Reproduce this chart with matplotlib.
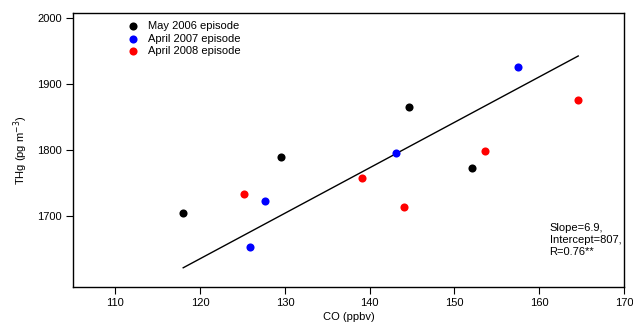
import matplotlib
matplotlib.use("Agg")
import matplotlib.pyplot as plt
import numpy as np

plt.rcParams['font.family'] = ['Liberation Sans', 'DejaVu Sans']

series_names = ["May 2006 episode", "April 2007 episode", "April 2008 episode"]
series_colors = ["#000000", "#0000ff", "#ff0000"]

co_2006 = [118.0, 129.5, 144.6, 152.1]
thg_2006 = [1704, 1789, 1866, 1773]
co_2007 = [125.9, 127.7, 143.1, 157.5]
thg_2007 = [1652, 1722, 1795, 1926]
co_2008 = [125.2, 139.1, 144.0, 153.6, 164.6]
thg_2008 = [1733, 1758, 1713, 1799, 1876]

slope = 6.9
intercept = 807
fit_text = "Slope=6.9,\nIntercept=807,\nR=0.76**"

xticks = [110, 120, 130, 140, 150, 160, 170]
yticks = [1700, 1800, 1900, 2000]

fig = plt.figure(figsize=(6.33, 3.22), dpi=100)
ax = fig.add_axes([73/633, 1 - 287/322, (624-73)/633, (287-13)/322])

xs = [co_2006, co_2007, co_2008]
ys = [thg_2006, thg_2007, thg_2008]
for x, y, c, n in zip(xs, ys, series_colors, series_names):
    ax.scatter(x, y, s=34, color=c, label=n, zorder=3, linewidths=0)

allx = np.concatenate([np.array(v) for v in xs])
lx = np.array([allx.min(), allx.max()])
ax.plot(lx, slope * lx + intercept, color="black", lw=1.0, zorder=2)

ax.set_xlim(105, 170)
ax.set_ylim(1592, 2008)
ax.set_xticks(xticks)
ax.set_yticks(yticks)
ax.tick_params(direction="out", length=5, width=0.8, labelsize=8, colors="black", pad=3.2)
for s in ax.spines.values():
    s.set_linewidth(1.0)

ax.set_xlabel("CO (ppbv)", fontsize=8)
ax.set_ylabel("THg (pg m$^{-3}$)", fontsize=8)
ax.xaxis.set_label_coords(0.5, -0.092)
ax.yaxis.set_label_coords(-0.078, 0.5)

ax.legend(loc="upper left", bbox_to_anchor=(0.075, 1.0), frameon=False, fontsize=8,
          handletextpad=0.3, labelspacing=0.25, borderaxespad=0.3, markerscale=1.0)

ax.text(0.865, 0.235, fit_text, transform=ax.transAxes, fontsize=8, va="top", ha="left",
        linespacing=1.25)

fig.savefig("out.png", dpi=100)
